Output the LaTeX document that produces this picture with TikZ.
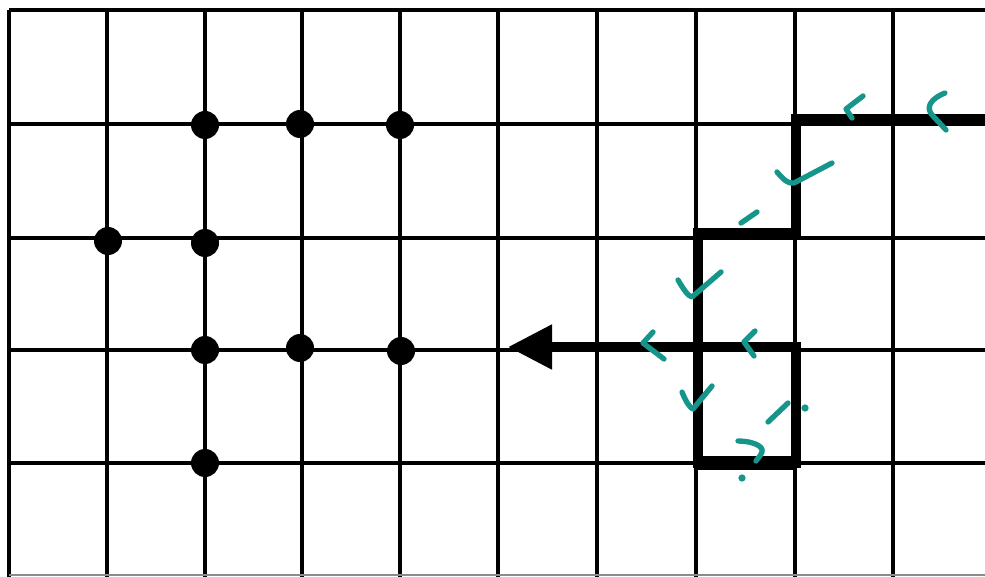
\documentclass[tikz,border=0pt]{standalone}
\usetikzlibrary{arrows.meta}
\definecolor{tickteal}{RGB}{22,150,138}
\tikzset{
  gridline/.style={line width=2.5pt, black},
  dot/.style={circle, fill=black, inner sep=0pt, minimum size=21pt},
  route/.style={line width=7pt, black, line join=miter},
  tick/.style={line width=4pt, tickteal, line cap=round, line join=round},
  tickdot/.style={circle, fill=tickteal, inner sep=0pt, minimum size=5.5pt}
}
\begin{document}
\begin{tikzpicture}[x=0.75pt, y=-0.75pt]
  \useasboundingbox (0,0) rectangle (985,577);
  \fill[white] (0,0) rectangle (985,577);

  % square grid
  \foreach \gx in {9,107,205,302,400,498,597,696,795,893}
    \draw[gridline] (\gx,10) -- (\gx,577);
  \foreach \gy in {10,124,238,350,463}
    \draw[gridline] (9,\gy) -- (985,\gy);
  \draw[line width=1.2pt, black!45] (9,575) -- (985,575);

  % lattice points
  \node[dot] (a1) at (205,125) {};
  \node[dot] (a2) at (300,124) {};
  \node[dot] (a3) at (400,125) {};
  \node[dot] (b1) at (108,241) {};
  \node[dot] (b2) at (205,243) {};
  \node[dot] (c1) at (205,350) {};
  \node[dot] (c2) at (300,348) {};
  \node[dot] (c3) at (401,351) {};
  \node[dot] (e1) at (205,463) {};

  % the walk along the grid, ending in an arrow
  \coordinate (r0) at (985,119);
  \coordinate (r1) at (796,119);
  \coordinate (r2) at (796,233);
  \coordinate (r3) at (698,233);
  \coordinate (r4) at (698,463);
  \coordinate (r5) at (796,463);
  \coordinate (r6) at (796,347);
  \coordinate (tip) at (508,347);
  \draw[route] (r0) -- (r1) -- (r2) -- (r3) -- (r4) -- (r5) -- (r6) -- ++(-3,0);
  \draw[line width=10pt, black] (r4) -- (r5);
  \draw[route, -{Triangle[length=33pt, width=32pt]}] (799,347) -- (tip);

  % hand-drawn teal marks along the walk
  \draw[tick] (863,96) -- (846,109) -- (852,118);
  \draw[tick] (945,93) .. controls (930,99) and (925,108) .. (933,116) -- (946,130);
  \draw[tick] (777,172) .. controls (784,180) and (788,184) .. (794,183) -- (832,163);
  \draw[tick] (757,212) -- (741,223);
  \draw[tick] (678,280) .. controls (684,290) and (688,296) .. (692,297) -- (721,272);
  \draw[tick] (653,332) -- (643,343) -- (664,359);
  \draw[tick] (755,331) -- (744,342) -- (754,356);
  \draw[tick] (682,392) .. controls (686,402) and (690,408) .. (693,409) -- (712,386);
  \draw[tick] (768,422) -- (788,403);
  \node[tickdot] (m1) at (805,408) {};
  \draw[tick] (738,441) .. controls (752,441) and (764,446) .. (762,452) .. controls (760,457) and (757,459) .. (756,461);
  \node[tickdot] (m2) at (742,478) {};
\end{tikzpicture}
\end{document}
